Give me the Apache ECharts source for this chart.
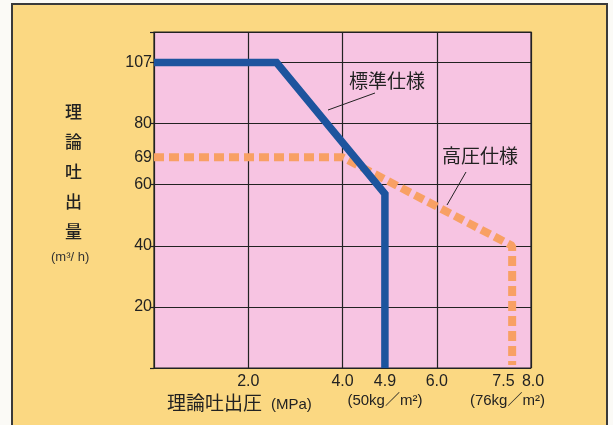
<!DOCTYPE html>
<html><head><meta charset="utf-8">
<script src="https://cdn.jsdelivr.net/npm/echarts@6/dist/echarts.min.js"></script>
<style>
html,body{margin:0;padding:0;background:#fbfaf6;width:613px;height:425px;overflow:hidden;}
#frame{position:absolute;left:11px;top:3px;width:593px;height:420px;border:2px solid #3a3a3a;background:#fbd882;}
#chart{position:absolute;left:0;top:0;width:613px;height:425px;}
</style></head>
<body>
<div id="frame"></div>
<div id="chart"></div>
<script>
const standardSpec = [[0, 107], [2.6, 107], [4.9, 57], [4.9, 0]];   // 標準仕様
const highPressureSpec = [[0, 69], [4.0, 69], [7.6, 40], [7.6, 1]]; // 高圧仕様
const xTickValues = [2.0, 4.0, 4.9, 6.0, 8.0];        // main tick labels
const xSubTickValues = [4.9, 7.5];                    // labels carrying kg/m² notes
const xSubLabels = ['(50kg／m²)', '(76kg／m²)'];
const xSubShowNumber = [false, true];                 // 7.5 printed here to avoid clashing with 8.0
const yTickValues = [20, 40, 60, 69, 80, 107];

// The reference uses a broken y scale: 80→107 occupies one 20-unit step.
function toDisp(v){ return v <= 80 ? v : 80 + (v - 80) * 20 / 27; }
function fromDisp(d){ return d <= 80 ? d : 80 + (d - 80) * 27 / 20; }

const chart = echarts.init(document.getElementById('chart'), null, {renderer:'canvas'});
const font = '"Liberation Sans", "Noto Sans CJK JP", sans-serif';
const cjk = '"Noto Sans CJK JP", sans-serif';

chart.setOption({
  backgroundColor: 'transparent',
  animation: false,
  grid: {left: 154, right: 82, top: 32, bottom: 57, show: true,
         backgroundColor: '#f7c4e2', borderColor: '#222', borderWidth: 1.2},
  xAxis: [{
    type: 'value', min: 0, max: 8, interval: 2,
    axisLine: {show: false}, axisTick: {show: false},
    splitLine: {show: true, lineStyle: {color: '#222', width: 1.2}},
    axisLabel: {
      customValues: xTickValues, margin: 4, hideOverlap: false,
      showMinLabel: true, showMaxLabel: true,
      fontFamily: font, fontSize: 16, color: '#222', lineHeight: 19,
      formatter: function(v){ return v === 8 ? '{m|' + v.toFixed(1) + '}' : v.toFixed(1); },
      rich: {m: {fontFamily: font, fontSize: 16, color: '#222', lineHeight: 19, padding: [0, 0, 0, 4]}}
    }
  }, {
    type: 'value', min: 0, max: 8, position: 'bottom',
    axisLine: {show: false}, axisTick: {show: false}, splitLine: {show: false},
    axisLabel: {
      customValues: xSubTickValues, margin: 4, hideOverlap: false,
      fontFamily: font, fontSize: 16, color: '#222', lineHeight: 19,
      formatter: function(v){
        const i = xSubTickValues.indexOf(v);
        return (xSubShowNumber[i] ? '{n|' + v.toFixed(1) + '}' : ' ') + '\n{s|' + xSubLabels[i] + '}';
      },
      rich: {
        n: {fontFamily: font, fontSize: 16, color: '#222', lineHeight: 19, padding: [0, 8, 0, 0]},
        s: {fontFamily: font, fontSize: 15, color: '#222', lineHeight: 19}
      }
    }
  }],
  yAxis: {
    type: 'value', min: 0, max: 110, interval: 20,
    axisLine: {show: false},
    axisTick: {show: true, inside: false, length: 4, lineStyle: {color: '#222', width: 1.2}},
    splitLine: {show: true, lineStyle: {color: '#222', width: 1.2}},
    axisLabel: {
      customValues: yTickValues.map(toDisp), margin: 2, hideOverlap: false,
      fontFamily: font, fontSize: 16, color: '#222',
      formatter: function(v){ return String(Math.round(fromDisp(v))); }
    }
  },
  series: [
    {name: '高圧仕様', type: 'line', showSymbol: false, z: 2,
     data: highPressureSpec.map(p => [p[0], toDisp(p[1])]),
     lineStyle: {color: '#f8a064', width: 8, type: [10, 5], cap: 'butt'}},
    {name: '標準仕様', type: 'line', showSymbol: false, z: 3,
     data: standardSpec.map(p => [p[0], toDisp(p[1])]),
     lineStyle: {color: '#1d549e', width: 7.5, join: 'miter'}}
  ],
  graphic: [
    {type: 'text', left: 349, top: 71, z: 10,
     style: {text: '標準仕様', font: '19px ' + cjk, fill: '#222'}},
    {type: 'line', z: 10, shape: {x1: 328, y1: 110, x2: 375, y2: 93},
     style: {stroke: '#222', lineWidth: 1}},
    {type: 'text', left: 442, top: 146, z: 10,
     style: {text: '高圧仕様', font: '19px ' + cjk, fill: '#222'}},
    {type: 'line', z: 10, shape: {x1: 466, y1: 172, x2: 447, y2: 205},
     style: {stroke: '#222', lineWidth: 1}},
    {type: 'text', left: 65, top: 97, z: 10,
     style: {text: '理\n論\n吐\n出\n量', font: '500 17px ' + cjk, fill: '#222', lineHeight: 30}},
    {type: 'text', left: 51, top: 251, z: 10,
     style: {text: '(m³/ h)', font: '13px ' + font, fill: '#333'}},
    {type: 'text', left: 167, top: 393, z: 10,
     style: {text: '理論吐出圧', font: '19px ' + cjk, fill: '#222'}},
    {type: 'text', left: 271, top: 397, z: 10,
     style: {text: '(MPa)', font: '15px ' + font, fill: '#222'}}
  ]
});
</script>
</body></html>
